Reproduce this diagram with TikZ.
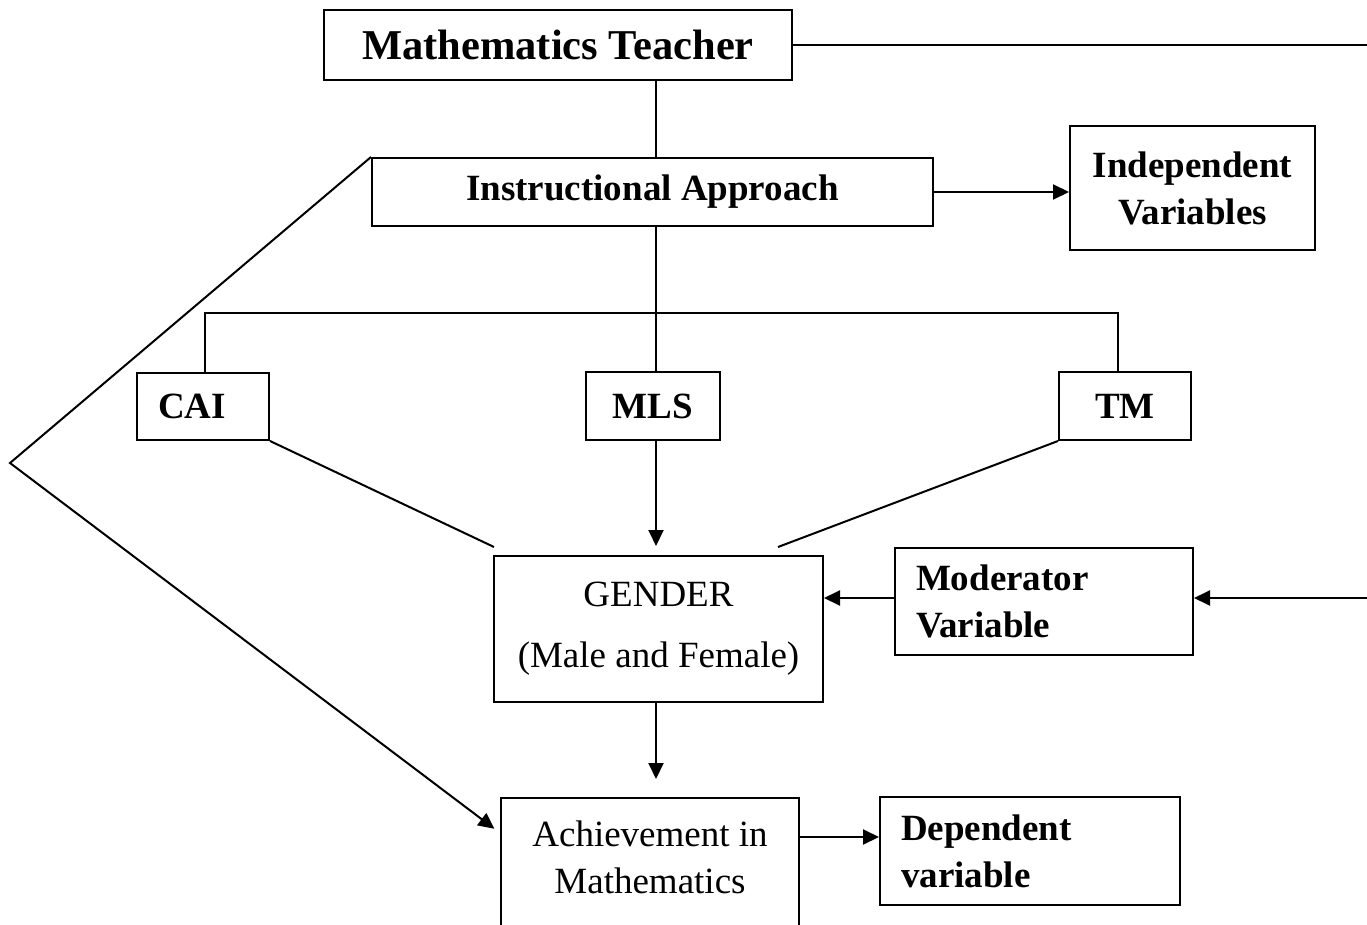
\documentclass[tikz,border=0pt]{standalone}
\usepackage{fontspec}
\setmainfont{Liberation Serif}
\usetikzlibrary{arrows.meta}
\begin{document}
\begin{tikzpicture}[x=1pt,y=-1pt,
  box/.style={draw,line width=2pt,inner sep=0pt,align=center,font=\fontsize{37}{47}\selectfont},
  boldbox/.style={box,font=\fontsize{37}{47}\selectfont\bfseries},
  leftbox/.style={align=left,inner xsep=21pt},
  conn/.style={line width=2pt},
  arr/.style={conn,-{Triangle[length=16pt,width=15pt]}}]
\useasboundingbox (0,0) rectangle (1367,925);
\clip (0,0) rectangle (1367,925);
% boxes
\node[box,minimum width=468,minimum height=70,font=\fontsize{42.5}{50}\selectfont\bfseries] (teacher) at (558,45) {\raisebox{-2pt}{Mathematics Teacher}};
\node[boldbox,minimum width=561,minimum height=68] (instr) at (652.5,192) {\raisebox{-4pt}{Instructional Approach}};
\node[boldbox,minimum width=245,minimum height=124] (indep) at (1192.5,188) {Independent\\Variables};
\node[boldbox,leftbox,text width=90pt,minimum height=67] (cai) at (203,406.5) {\raisebox{-2pt}{CAI}};
\node[boldbox,minimum width=134,minimum height=68] (mls) at (653,406) {\raisebox{-2pt}{MLS}};
\node[boldbox,minimum width=132,minimum height=68] (tm) at (1125,406) {\raisebox{-2pt}{TM}};
\node[box,minimum width=329,minimum height=146] (gender) at (658.5,629) {GENDER\\[14pt](Male and Female)};
\node[boldbox,leftbox,text width=256pt,minimum height=107] (mod) at (1044,601.5) {\raisebox{-4pt}{Moderator}\\\raisebox{-4pt}{Variable}};
\node[box,minimum width=298,minimum height=180] (ach) at (650,888) {Achievement in\\Mathematics\\\strut};
\node[boldbox,leftbox,text width=258pt,minimum height=108] (dep) at (1030,851) {Dependent\\variable};
% helper coordinates
\coordinate (spine) at (656,0);
\coordinate (teacherR) at (1367,45);
\coordinate (brL) at (205,313);
\coordinate (brR) at (1118,313);
\coordinate (gL) at (494,547);
\coordinate (gR) at (778,547);
\coordinate (modR) at (1367,598);
\coordinate (depY) at (0,837);
\coordinate (bend) at (10,463);
\coordinate (achY) at (0,833);
% connectors
\draw[conn] (teacher.east) -- (teacherR);
\draw[conn] (teacher.south -| spine) -- (instr.north -| spine);
\draw[conn] (instr.south -| spine) -- (mls.north -| spine);
\draw[conn] (cai.north -| brL) -- (brL) -- (brR) -- (tm.north -| brR);
\draw[arr] (instr.east) -- (instr.east -| indep.west);
\draw[conn] (cai.south east) -- (gL);
\draw[conn] (tm.south west) -- (gR);
\draw[arr,shorten >=9pt] (mls.south -| spine) -- (gender.north -| spine);
\draw[arr] (modR) -- (mod.east |- modR);
\draw[arr] (mod.west |- modR) -- (gender.east |- modR);
\draw[arr,shorten >=18pt] (gender.south -| spine) -- (ach.north -| spine);
\draw[arr] (ach.east |- depY) -- (dep.west |- depY);
\draw[arr,shorten >=7pt] (instr.north west) -- (bend) -- (ach.west |- achY);
\end{tikzpicture}
\end{document}
